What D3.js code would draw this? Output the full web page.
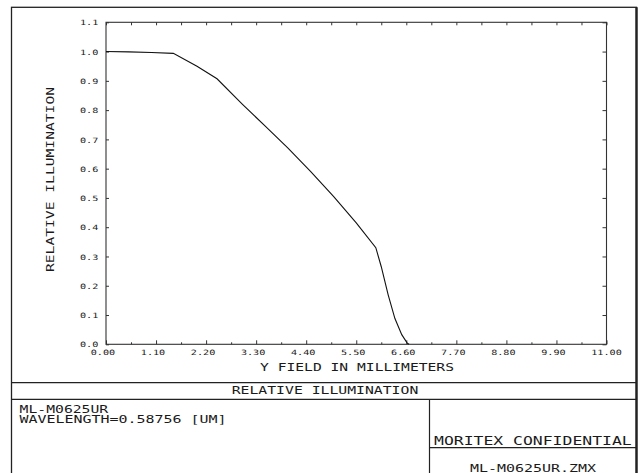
<!DOCTYPE html>
<html>
<head>
<meta charset="utf-8">
<script src="https://cdn.jsdelivr.net/npm/d3@7"></script>
<style>
  html, body { margin: 0; padding: 0; background: #fff; }
  svg { display: block; }
  text { font-family: "DejaVu Sans Mono", "Liberation Mono", monospace; fill: #1a1a1a; }
</style>
</head>
<body>
<svg id="chart" width="640" height="473"></svg>
<script>
// ---- data ----
const fieldMM = [0, 0.5, 1.0, 1.48, 2.0, 2.44, 3.0, 3.5, 4.0, 4.5, 5.0, 5.5, 5.93, 6.05, 6.2, 6.35, 6.5, 6.62, 6.66];
const relIllum = [1.0, 0.999, 0.997, 0.994, 0.95, 0.907, 0.82, 0.745, 0.67, 0.59, 0.505, 0.415, 0.33, 0.265, 0.17, 0.088, 0.033, 0.004, 0.0];
const xTicks = [0, 1.1, 2.2, 3.3, 4.4, 5.5, 6.6, 7.7, 8.8, 9.9, 11.0];
const xMinorTicks = [0.55, 1.65, 2.75, 3.85, 4.95, 6.05, 7.15, 8.25, 9.35, 10.45];
const yTicks = [0, 0.1, 0.2, 0.3, 0.4, 0.5, 0.6, 0.7, 0.8, 0.9, 1.0, 1.1];
const xTitle = "Y FIELD IN MILLIMETERS";
const yTitle = "RELATIVE ILLUMINATION";
const plotTitle = "RELATIVE ILLUMINATION";
const infoLines = ["ML-M0625UR", "WAVELENGTH=0.58756 [UM]"];
const companyText = "MORITEX CONFIDENTIAL";
const fileText = "ML-M0625UR.ZMX";

// ---- layout ----
const svg = d3.select("#chart");
const L = 106, R = 606.5, T = 22.3, B = 344.3;
const x = d3.scaleLinear().domain([0, 11]).range([L, R]);
const y = d3.scaleLinear().domain([0, 1.1]).range([B, T]);
const fx = d3.format(".2f"), fy = d3.format(".1f");
const ink = "#222";

// outer frame
const fL = 11.5, fR = 636.5, fT = 7.3, fB = 500;
svg.append("rect").attr("x", fL).attr("y", fT).attr("width", fR - fL).attr("height", fB - fT)
  .attr("fill", "none").attr("stroke", ink).attr("stroke-width", 1.3);
svg.append("line").attr("x1", fR).attr("x2", fR).attr("y1", fT).attr("y2", fB)
  .attr("stroke", ink).attr("stroke-width", 2.4);

// title block lines
svg.append("line").attr("x1", fL).attr("x2", fR).attr("y1", 382.7).attr("y2", 382.7).attr("stroke", ink).attr("stroke-width", 1.2);
svg.append("line").attr("x1", fL).attr("x2", fR).attr("y1", 399.3).attr("y2", 399.3).attr("stroke", ink).attr("stroke-width", 1.2);
svg.append("line").attr("x1", 429.5).attr("x2", 429.5).attr("y1", 399.3).attr("y2", fB).attr("stroke", ink).attr("stroke-width", 1.2);
svg.append("line").attr("x1", 429.5).attr("x2", fR).attr("y1", 447.7).attr("y2", 447.7).attr("stroke", ink).attr("stroke-width", 1.2);

// plot frame
svg.append("rect").attr("x", L).attr("y", T).attr("width", R - L).attr("height", B - T)
  .attr("fill", "none").attr("stroke", "#333").attr("stroke-width", 1.1);

function styleAxis(g) {
  g.select(".domain").remove();
  g.selectAll(".tick line").attr("stroke", "#333").attr("stroke-width", 1);
}

// bottom axis: major ticks with labels
const gB = svg.append("g").attr("transform", `translate(0,${B})`)
  .call(d3.axisBottom(x).tickValues(xTicks).tickSize(-4).tickPadding(6).tickFormat(fx));
styleAxis(gB);
gB.selectAll(".tick text")
  .attr("font-size", 7.3)
  .attr("font-family", "DejaVu Sans Mono")
  .attr("fill", "#1a1a1a")
  .attr("text-anchor", "middle")
  .attr("textLength", d => fx(d).length * 6.1)
  .attr("lengthAdjust", "spacingAndGlyphs")
  .attr("dx", d => -(5 - fx(d).length) * 3.05 - 0.5);
// bottom minor ticks
const gBm = svg.append("g").attr("transform", `translate(0,${B})`)
  .call(d3.axisBottom(x).tickValues(xMinorTicks).tickSize(-2).tickFormat(""));
styleAxis(gBm);
// top ticks
const gT = svg.append("g").attr("transform", `translate(0,${T})`)
  .call(d3.axisTop(x).tickValues(xTicks.concat(xMinorTicks)).tickSize(-3).tickFormat(""));
styleAxis(gT);
// left axis
const gL = svg.append("g").attr("transform", `translate(${L},0)`)
  .call(d3.axisLeft(y).tickValues(yTicks).tickSize(-3).tickPadding(7.7).tickFormat(fy));
styleAxis(gL);
gL.selectAll(".tick text")
  .attr("font-size", 7.3)
  .attr("font-family", "DejaVu Sans Mono")
  .attr("fill", "#1a1a1a")
  .attr("textLength", d => fy(d).length * 6.1)
  .attr("lengthAdjust", "spacingAndGlyphs")
  .attr("dy", "0.36em");
// right ticks
const gR = svg.append("g").attr("transform", `translate(${R},0)`)
  .call(d3.axisRight(y).tickValues(yTicks).tickSize(-4).tickFormat(""));
styleAxis(gR);

// curve
const pts = fieldMM.map((v, i) => [v, relIllum[i]]);
svg.append("path").datum(pts)
  .attr("fill", "none").attr("stroke", "#111").attr("stroke-width", 1.1)
  .attr("d", d3.line().x(d => x(d[0])).y(d => y(d[1])));

// text helper
function label(str, px, py, size, len, anchor, rotate) {
  const t = svg.append("text").text(str)
    .attr("font-size", size)
    .attr("text-anchor", anchor || "start")
    .attr("textLength", len)
    .attr("lengthAdjust", "spacingAndGlyphs");
  if (rotate) {
    t.attr("transform", `translate(${px},${py}) rotate(${rotate})`);
  } else {
    t.attr("x", px).attr("y", py);
  }
  return t;
}

label(xTitle, 357, 370.8, 9.6, 194, "middle");
label(yTitle, 53.6, 179.5, 9.6, 185, "middle", -90);
label(plotTitle, 325, 394.3, 10.2, 186.6, "middle");
label(infoLines[0], 19.6, 412.8, 9.6, 88.6, "start");
label(infoLines[1], 19.6, 422.6, 9.6, 207, "start");
label(companyText, 434, 445, 12.6, 197.7, "start");
label(fileText, 533, 471.8, 10.4, 126, "middle");
</script>
</body>
</html>
